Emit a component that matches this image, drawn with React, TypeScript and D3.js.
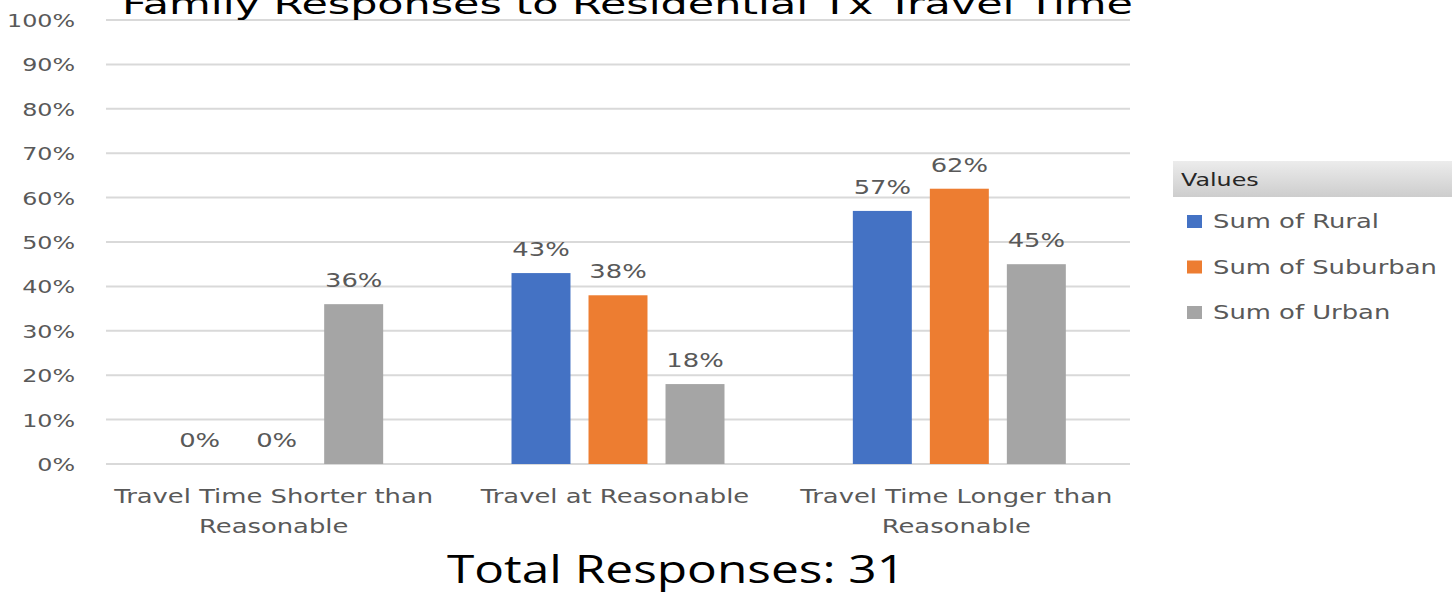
import React from "react";
import * as d3 from "d3";

// Chart data
const categoryLines: string[][] = [
  ["Travel Time Shorter than", "Reasonable"],
  ["Travel at Reasonable"],
  ["Travel Time Longer than", "Reasonable"],
];
const seriesNames = ["Sum of Rural", "Sum of Suburban", "Sum of Urban"];
const rural = [0, 43, 57];
const suburban = [0, 38, 62];
const urban = [36, 18, 45];
const yTicks = [0, 10, 20, 30, 40, 50, 60, 70, 80, 90, 100];
const titleText = "Family Responses to Residential Tx Travel Time";
const footerText = "Total Responses: 31";

const colors = ["#4472C4", "#ED7D31", "#A5A5A5"];

const W = 1452;
const H = 593;
const plot = { left: 106, right: 1130, top: 20, bottom: 464 };
const SX = 1.36; // horizontal text stretch
const labelFont = "'DejaVu Sans', Verdana, sans-serif";
const labelColor = "#595959";

function Stretch({ x, y, anchor, size, fill, family, sx = SX, children }: any) {
  return (
    <text
      transform={`translate(${x},${y}) scale(${sx},1)`}
      textAnchor={anchor}
      fontSize={size}
      fill={fill}
      fontFamily={family}
    >
      {children}
    </text>
  );
}

export default function App() {
  const seriesValues = [rural, suburban, urban];
  const cats = categoryLines.map((l) => l.join(" "));

  const x0 = d3.scaleBand<string>().domain(cats).range([plot.left, plot.right]).padding(0);
  const bw = x0.bandwidth();
  const groupPad = bw * 0.188;
  const x1 = d3
    .scaleBand<string>()
    .domain(seriesNames)
    .range([groupPad, bw - groupPad])
    .paddingInner(0.234)
    .paddingOuter(0);
  const y = d3.scaleLinear().domain([0, 100]).range([plot.bottom, plot.top]);

  return (
    <svg
      width={W}
      height={H}
      style={{ position: "absolute", left: 0, top: 0, background: "#fff" }}
    >
      <defs>
        <linearGradient id="hdr" x1="0" y1="0" x2="0" y2="1">
          <stop offset="0" stopColor="#ececec" />
          <stop offset="1" stopColor="#cdcdcd" />
        </linearGradient>
      </defs>
      <rect width={W} height={H} fill="#fff" />

      {/* gridlines */}
      {yTicks.map((t) => (
        <line
          key={"g" + t}
          x1={plot.left}
          x2={plot.right}
          y1={y(t)}
          y2={y(t)}
          stroke="#d9d9d9"
          strokeWidth={2}
        />
      ))}

      {/* y tick labels */}
      {yTicks.map((t) => (
        <Stretch
          key={"t" + t}
          x={75}
          y={y(t) + 7}
          anchor="end"
          size={17.5}
          fill={labelColor}
          family={labelFont}
        >
          {t + "%"}
        </Stretch>
      ))}

      {/* bars */}
      {cats.map((c, ci) =>
        seriesNames.map((s, si) => {
          const v = seriesValues[si][ci];
          const bx = (x0(c) as number) + (x1(s) as number);
          return (
            <g key={c + s}>
              <rect
                x={bx}
                y={y(v)}
                width={x1.bandwidth()}
                height={y(0) - y(v)}
                fill={colors[si]}
              />
              <Stretch
                x={bx + x1.bandwidth() / 2}
                y={y(v) - 17}
                anchor="middle"
                size={19}
                fill={labelColor}
                family={labelFont}
              >
                {v + "%"}
              </Stretch>
            </g>
          );
        })
      )}

      {/* category labels */}
      {categoryLines.map((lines, ci) =>
        lines.map((ln, li) => (
          <Stretch
            key={"c" + ci + li}
            x={(x0(cats[ci]) as number) + bw / 2 - 3}
            y={503 + li * 30}
            anchor="middle"
            size={19}
            fill={labelColor}
            family={labelFont}
          >
            {ln}
          </Stretch>
        ))
      )}

      {/* title, running past the top edge */}
      <text
        x={122}
        y={14}
        fontSize={28}
        fill="#000"
        fontFamily="'DejaVu Sans', sans-serif"
        textLength={1011}
        lengthAdjust="spacingAndGlyphs"
      >
        {titleText}
      </text>

      {/* footer */}
      <text
        x={447}
        y={583}
        fontSize={38}
        fill="#000"
        fontFamily="'Open Sans', sans-serif"
        textLength={458}
        lengthAdjust="spacingAndGlyphs"
      >
        {footerText}
      </text>

      {/* legend */}
      <rect x={1173} y={161} width={W - 1173} height={36} fill="url(#hdr)" />
      <Stretch x={1181} y={186} anchor="start" size={17.5} fill="#262626" family={labelFont}>
        Values
      </Stretch>
      {seriesNames.map((s, i) => (
        <g key={"l" + s}>
          <rect x={1187} y={215 + i * 45.5} width={15} height={13} fill={colors[i]} />
          <Stretch
            x={1213}
            y={228 + i * 45.5}
            anchor="start"
            size={19}
            fill={labelColor}
            family={labelFont}
          >
            {s}
          </Stretch>
        </g>
      ))}
    </svg>
  );
}
